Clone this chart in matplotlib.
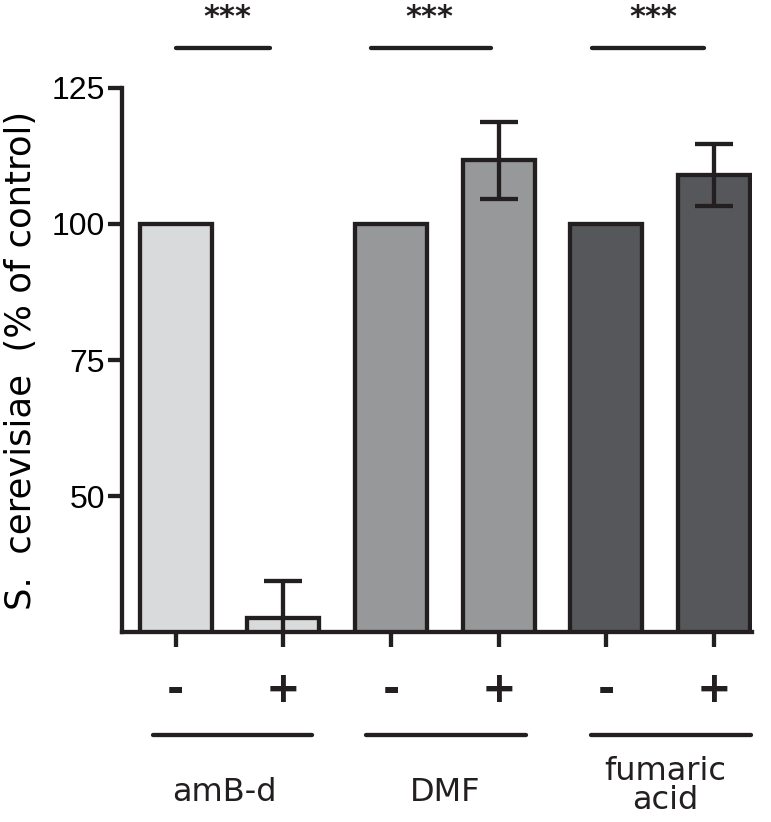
import matplotlib
matplotlib.use('Agg')
import matplotlib.pyplot as plt

# data
treatment = ['-', '+', '-', '+', '-', '+']
values = [100, 27.6, 100, 111.7, 100, 109.0]
errors = [0, 6.8, 0, 7.1, 0, 5.7]
colors = ['#d9dadb', '#d9dadb', '#97989a', '#97989a', '#56575a', '#56575a']
groups = ['amB-d', 'DMF', 'fumaric\nacid']
group_centers = [0.53, 2.51, 4.6]
label_centers = [0.45, 2.5, 4.55]
label_y = [-4.4, -4.4, -3.2]
sig_spans = [(0.0, 0.88), (1.81, 2.93), (3.87, 4.91)]
sig_star_x = [0.48, 2.36, 4.44]
sig_text = '***'

edge = '#231f20'
lw = 3.1

fig = plt.figure(figsize=(7.71, 8.22), dpi=100)
ax = fig.add_axes([0.158, 0.231, 0.817, 0.662])

x = list(range(len(values)))
ax.bar(x, values, width=0.667, color=colors, edgecolor=edge, linewidth=lw,
       bottom=0, zorder=2)
for xi, v, e in zip(x, values, errors):
    if e > 0:
        ax.errorbar(xi, v, yerr=e, fmt='none', ecolor=edge, elinewidth=lw,
                    capsize=14, capthick=lw, zorder=3)

ax.set_ylim(25, 125)
ax.set_xlim(-0.5, 5.35)
ax.set_yticks([50, 75, 100, 125])
ax.set_yticklabels(['50', '75', '100', '125'], family='Liberation Sans', fontsize=23)
ax.set_xticks(x)
ax.set_xticklabels([])
ax.tick_params(axis='both', width=lw, length=10, color=edge, pad=2)
ax.tick_params(axis='x', length=11)
for s in ['top', 'right']:
    ax.spines[s].set_visible(False)
for s in ['left', 'bottom']:
    ax.spines[s].set_linewidth(lw)
    ax.spines[s].set_color(edge)

ax.set_ylabel('S.  cerevisiae  (% of control)', family='DejaVu Sans',
              fontsize=25.5, labelpad=10)

# +/- row under the bars
for xi, t in zip(x, treatment):
    ax.text(xi, 14.4, t, ha='center', va='center', fontsize=30,
            fontweight='bold', color=edge, clip_on=False)

# group lines and names
for c, lc, ly, g in zip(group_centers, label_centers, label_y, groups):
    ax.plot([c - 0.74, c + 0.74], [6.1, 6.1], color=edge, lw=lw,
            solid_capstyle='round', clip_on=False)
    ax.text(lc, ly, g, ha='center', va='center', fontsize=23,
            color=edge, linespacing=0.92, clip_on=False)

# significance marks
for (a, b), sx in zip(sig_spans, sig_star_x):
    ax.plot([a, b], [132.3, 132.3], color=edge, lw=lw,
            solid_capstyle='round', clip_on=False)
    ax.text(sx, 138.0, sig_text, ha='center', va='center', fontsize=22,
            fontweight='bold', color=edge, clip_on=False)

fig.savefig('out.png', dpi=100)
